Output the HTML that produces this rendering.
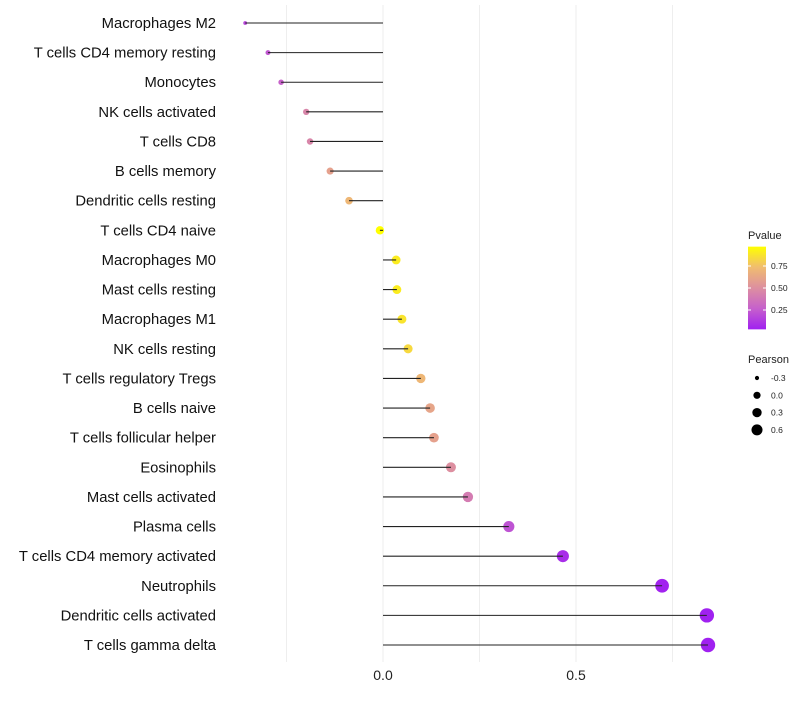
<!DOCTYPE html>
<html><head><meta charset="utf-8"><style>
body{margin:0;background:#fff;}
svg text{font-family:"Liberation Sans",Arial,sans-serif;}
</style></head><body>
<svg id="chart" width="800" height="700"></svg>
<script>
const categories=["Macrophages M2","T cells CD4 memory resting","Monocytes","NK cells activated","T cells CD8","B cells memory","Dendritic cells resting","T cells CD4 naive","Macrophages M0","Mast cells resting","Macrophages M1","NK cells resting","T cells regulatory  Tregs ","B cells naive","T cells follicular helper","Eosinophils","Mast cells activated","Plasma cells","T cells CD4 memory activated","Neutrophils","Dendritic cells activated","T cells gamma delta"];
const pearson=[-0.357,-0.298,-0.264,-0.199,-0.189,-0.137,-0.088,-0.008,0.034,0.036,0.049,0.065,0.098,0.122,0.132,0.176,0.220,0.326,0.466,0.723,0.839,0.842];
const pvalues=[0.15,0.22,0.26,0.45,0.45,0.6,0.72,1.0,0.93,0.93,0.9,0.86,0.72,0.62,0.6,0.5,0.4,0.2,0.05,0.01,0.003,0.003];
const xTicks=[0,0.5];
const xTickLabels=["0.0","0.5"];
const pTicks=[0.25,0.5,0.75];
const pTickLabels=["0.25","0.50","0.75"];
const sizeTicks=[-0.3,0,0.3,0.6];
const sizeTickLabels=["-0.3","0.0","0.3","0.6"];

const NS="http://www.w3.org/2000/svg";
const svg=document.getElementById('chart');
function mk(t,a,p){const e=document.createElementNS(NS,t);for(const k in a)e.setAttribute(k,a[k]);(p||svg).appendChild(e);return e;}
const x=v=>383+v*386;
const y=i=>23+i*(622/21);
const r=v=>Math.sqrt(Math.max(2.2,18+40*v));
const stops=[[0,[160,32,240]],[0.25,[198,96,204]],[0.5,[221,143,160]],[0.75,[240,188,112]],[1,[255,255,0]]];
function col(p){for(let i=1;i<stops.length;i++){if(p<=stops[i][0]){const a=stops[i-1],b=stops[i];const t=(p-a[0])/(b[0]-a[0]);const c=a[1].map((v,j)=>Math.round(v+(b[1][j]-v)*t));return `rgb(${c})`;}}return 'rgb(255,255,0)';}

[-0.25,0,0.25,0.5,0.75].forEach(g=>{
 const l=mk('line',{x1:x(g),x2:x(g),y1:5,y2:662,stroke:'#eeeeee','stroke-width':1});
 
 
});
xTicks.forEach((t,i)=>{
 const e=mk('text',{x:x(t),y:680,'text-anchor':'middle','font-size':14,fill:'#222'});e.textContent=xTickLabels[i];
 
 
});
categories.forEach((c,i)=>{
 const t=mk('text',{x:216,y:y(i)+5,'text-anchor':'end','font-size':14.8,fill:'#111'});t.textContent=c;
 
 
 const d=mk('circle',{cx:x(pearson[i]),cy:y(i),r:r(pearson[i]),fill:col(pvalues[i])});
 
 
 const l=mk('line',{x1:x(0),x2:x(pearson[i]),y1:y(i),y2:y(i),stroke:'#222','stroke-width':1.1});
 
 
});
const defs=mk('defs',{});
const grad=mk('linearGradient',{id:'pg',x1:0,y1:1,x2:0,y2:0},defs);
stops.forEach(s=>mk('stop',{offset:s[0],'stop-color':`rgb(${s[1]})`},grad));
const pt=mk('text',{x:748,y:239,'font-size':11,fill:'#222'});pt.textContent='Pvalue';


const py=p=>332-p*88;
const bar=mk('rect',{x:748,y:py(0.97),width:18,height:py(0.03)-py(0.97),fill:'url(#pg)'});


pTicks.forEach((p,i)=>{
 mk('line',{x1:748,x2:751,y1:py(p),y2:py(p),stroke:'#fff'});
 mk('line',{x1:763,x2:766,y1:py(p),y2:py(p),stroke:'#fff'});
 const e=mk('text',{x:771,y:py(p)+3,'font-size':8.5,fill:'#222'});e.textContent=pTickLabels[i];
 
 
});
const st=mk('text',{x:748,y:363,'font-size':11,fill:'#222'});st.textContent='Pearson';


sizeTicks.forEach((s,i)=>{
 const cy=378+i*17.3;
 const c=mk('circle',{cx:757,cy:cy,r:r(s)*0.85,fill:'#000'});
 
 
 const e=mk('text',{x:771,y:cy+3,'font-size':8.5,fill:'#222'});e.textContent=sizeTickLabels[i];
 
 
});
</script>
</body></html>
